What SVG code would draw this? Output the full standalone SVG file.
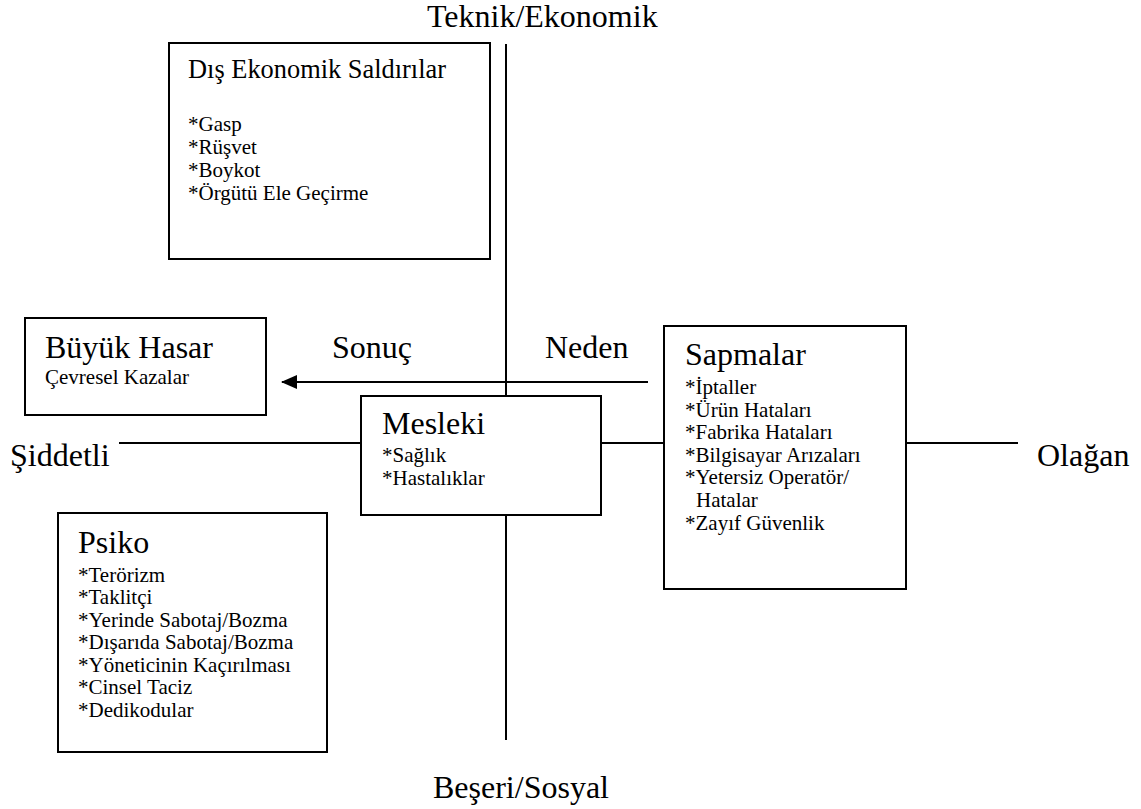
<svg xmlns="http://www.w3.org/2000/svg" width="1141" height="809" viewBox="0 0 1141 809" font-family="'Liberation Serif','Times New Roman',serif">
<defs>
<style>
text{font-family:"Liberation Serif","Times New Roman",serif;fill:#000}
.ax{font-size:32px}
.t{font-size:32px}
.i{font-size:21px}
.box{fill:#fff;stroke:#000;stroke-width:2}
.ln{stroke:#000;stroke-width:2}
</style>
<marker id="ah" markerWidth="16" markerHeight="14" refX="15" refY="7" orient="auto" markerUnits="userSpaceOnUse">
<path d="M0,0 L16,7 L0,14 Z" fill="#000"/>
</marker>
</defs>
<rect x="0" y="0" width="1141" height="809" fill="#fff"/>
<g id="connectors">
<line class="ln" x1="506" y1="44" x2="506" y2="740"/>
<line class="ln" x1="119" y1="443" x2="1018" y2="443"/>
<line class="ln" x1="648" y1="382" x2="282" y2="382" marker-end="url(#ah)"/>
</g>
<g id="axis-labels">
<text class="ax" x="427" y="27">Teknik/Ekonomik</text>
<text class="ax" x="433" y="798">Beşeri/Sosyal</text>
<text class="ax" x="10" y="466">Şiddetli</text>
<text class="ax" x="1037" y="466">Olağan</text>
<text class="ax" x="332" y="358">Sonuç</text>
<text class="ax" x="545" y="358">Neden</text>
</g>
<g id="dis-ekonomik">
<rect class="box" x="169" y="43" width="321" height="216"/>
<text x="188" y="78" style="font-size:26.4px">Dış Ekonomik Saldırılar</text>
<text class="i" x="188" y="131">*Gasp</text>
<text class="i" x="188" y="154">*Rüşvet</text>
<text class="i" x="188" y="177">*Boykot</text>
<text class="i" x="188" y="200">*Örgütü Ele Geçirme</text>
</g>
<g id="buyuk-hasar">
<rect class="box" x="25" y="318" width="241" height="97"/>
<text class="t" x="45" y="358">Büyük Hasar</text>
<text class="i" x="45" y="384">Çevresel Kazalar</text>
</g>
<g id="mesleki">
<rect class="box" x="361" y="396" width="240" height="119"/>
<text class="t" x="382" y="434">Mesleki</text>
<text class="i" x="382" y="462">*Sağlık</text>
<text class="i" x="382" y="485">*Hastalıklar</text>
</g>
<g id="sapmalar">
<rect class="box" x="664" y="326" width="242" height="263"/>
<text class="t" x="685" y="365">Sapmalar</text>
<text class="i" x="685" y="394">*İptaller</text>
<text class="i" x="685" y="417">*Ürün Hataları</text>
<text class="i" x="685" y="439">*Fabrika Hataları</text>
<text class="i" x="685" y="462">*Bilgisayar Arızaları</text>
<text class="i" x="685" y="484">*Yetersiz Operatör/</text>
<text class="i" x="696" y="507">Hatalar</text>
<text class="i" x="685" y="530">*Zayıf Güvenlik</text>
</g>
<g id="psiko">
<rect class="box" x="58" y="513" width="269" height="239"/>
<text class="t" x="78" y="553">Psiko</text>
<text class="i" x="78" y="582">*Terörizm</text>
<text class="i" x="78" y="604">*Taklitçi</text>
<text class="i" x="78" y="627">*Yerinde Sabotaj/Bozma</text>
<text class="i" x="78" y="649">*Dışarıda Sabotaj/Bozma</text>
<text class="i" x="78" y="672">*Yöneticinin Kaçırılması</text>
<text class="i" x="78" y="694">*Cinsel Taciz</text>
<text class="i" x="78" y="717">*Dedikodular</text>
</g>
</svg>
